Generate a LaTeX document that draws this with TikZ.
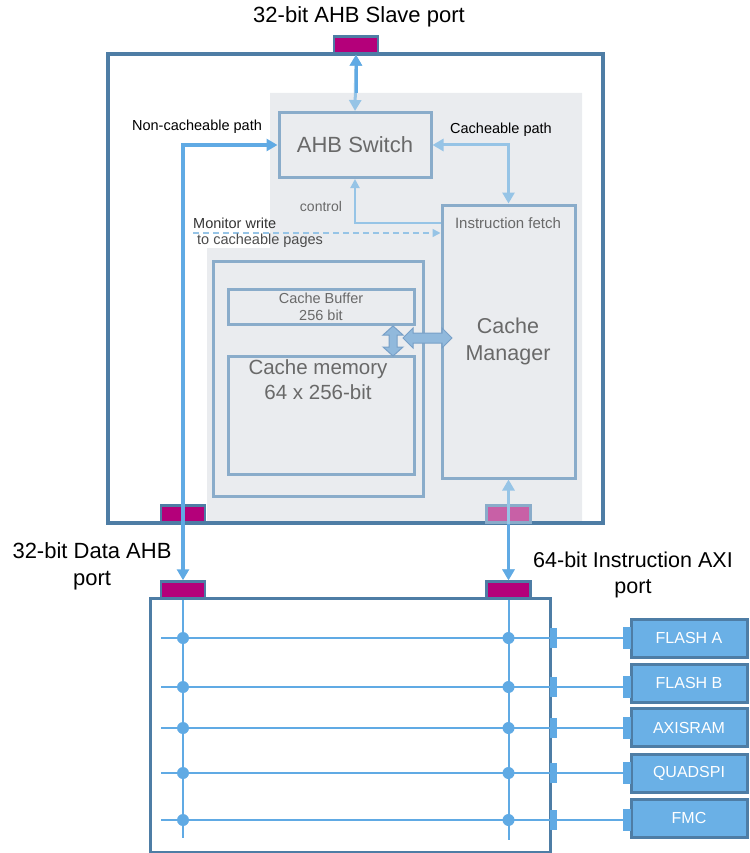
\documentclass[tikz,border=0pt]{standalone}
\usepackage{fontspec}
\setmainfont{Liberation Sans}
\usetikzlibrary{arrows.meta}
\definecolor{outerblue}{RGB}{78,125,165}
\definecolor{innerblue}{RGB}{138,172,202}
\definecolor{bggray}{RGB}{234,236,239}
\definecolor{magport}{RGB}{180,0,122}
\definecolor{pinkport}{RGB}{200,96,166}
\definecolor{arrowblue}{RGB}{96,170,228}
\definecolor{lightarrow}{RGB}{150,196,230}
\definecolor{perifill}{RGB}{106,176,230}
\definecolor{textgray}{RGB}{105,105,105}
\definecolor{fatfill}{RGB}{145,185,220}
\definecolor{fatdraw}{RGB}{120,160,200}
\tikzset{
  outerbox/.style={draw=outerblue, line width=3.5pt, inner sep=0pt},
  innerbox/.style={draw=innerblue, line width=3pt, inner sep=0pt, text=textgray},
  portbox/.style={draw=outerblue, fill=magport, line width=2.5pt, minimum width=44pt, minimum height=17pt, inner sep=0pt},
  peribox/.style={draw=outerblue, fill=perifill, line width=3pt, minimum width=116pt, minimum height=38pt, inner sep=0pt, text=white, font=\fontsize{16}{19}\selectfont},
  bigarrow/.style={line width=3pt, arrows={Triangle[length=11pt,width=12pt]-Triangle[length=11pt,width=12pt]}},
  rowline/.style={arrowblue, line width=2pt},
  stub/.style={fill=arrowblue},
  lbl/.style={inner sep=0pt, font=\fontsize{14.5}{17}\selectfont},
}
\begin{document}
\begin{tikzpicture}[x=1pt,y=-1pt]
\useasboundingbox (0,0) rectangle (749,853);
% gray background
\fill[bggray] (270,93) -- (582,93) -- (582,523) -- (207,523) -- (207,248) -- (270,248) -- cycle;
% top box
\node[outerbox, minimum width=495pt, minimum height=469pt] (topbox) at (355.5,288.5) {};
\node[inner sep=0pt, font=\fontsize{22}{26}\selectfont] (ttl) at (359,17) {32-bit AHB Slave port};
\node[portbox] (slave) at (356,45) {};
\node[portbox] (tp1) at (183,514) {};
\node[portbox, fill=pinkport, draw=innerblue] (tp2) at (508.5,514) {};
% AHB switch
\node[innerbox, minimum width=152pt, minimum height=65pt, font=\fontsize{22}{26}\selectfont] (ahb) at (355,145) {AHB Switch};
% cache manager
\node[innerbox, minimum width=133pt, minimum height=273pt] (cm) at (508.5,341.5) {};
\node[inner sep=0pt, text=textgray, font=\fontsize{21.5}{27}\selectfont, align=center] (cmt) at (508,341) {Cache\\Manager};
\node[inner sep=0pt, text=textgray, font=\fontsize{15}{17}\selectfont] (ifetch) at (508,223) {Instruction fetch};
% cache memory group
\node[innerbox, minimum width=210pt, minimum height=235pt] (cgroup) at (318,378.5) {};
\node[innerbox, minimum width=186pt, minimum height=35pt, align=center, font=\fontsize{14.5}{17}\selectfont] (cbuf) at (321,306.5) {Cache Buffer\\256 bit};
\node[innerbox, minimum width=186pt, minimum height=118pt] (cmem) at (321,415) {};
\node[inner sep=0pt, text=textgray, font=\fontsize{20.5}{25}\selectfont, align=center] (cmemt) at (318,379.5) {Cache memory\\64 x 256-bit};
% fat arrows
\filldraw[draw=fatdraw, fill=fatfill, line width=1pt] (393,326) -- (403,335) -- (397,335) -- (397,347) -- (403,347) -- (393,356) -- (383,347) -- (389,347) -- (389,335) -- (383,335) -- cycle;
\filldraw[draw=fatdraw, fill=fatfill, line width=1pt] (403,338) -- (413,328) -- (413,333) -- (442,333) -- (442,328) -- (452,338) -- (442,348) -- (442,343) -- (413,343) -- (413,348) -- cycle;
% lower box
\node[outerbox, line width=3pt, minimum width=400pt, minimum height=254pt] (lowbox) at (350,725) {};
\node[portbox] (lp1) at (183,590) {};
\node[portbox] (lp2) at (508.5,590) {};
% port labels
\node[inner sep=0pt, align=center, font=\fontsize{22}{27}\selectfont] (dlbl) at (92,566) {32-bit Data AHB\\port};
\node[inner sep=0pt, align=center, font=\fontsize{21.5}{26}\selectfont] (ilbl) at (633,575) {64-bit Instruction AXI\\port};
% slave <-> AHB switch
\draw[bigarrow, lightarrow] (slave.south) -- (ahb.north);
\coordinate (graytop) at (356,93);
\draw[line width=3pt, arrowblue, arrows={Triangle[length=11pt,width=12pt]-}] (slave.south) -- (graytop);
% non-cacheable path
\draw[bigarrow, arrowblue, line width=3.5pt] (ahb.west) -| (lp1.north);
\node[lbl] (ncl) at (197,127) {Non-cacheable path};
% cacheable path
\draw[bigarrow, lightarrow] (ahb.east) -| (cm.north);
\node[lbl] (cl) at (501,130) {Cacheable path};
% control
\draw[lightarrow, line width=2pt, -{Triangle[length=9pt,width=9pt]}] (cm.west |- ifetch) -| (ahb.south);
\node[inner sep=0pt, text=textgray, font=\fontsize{14}{17}\selectfont] (ctl) at (321,206) {control};
% monitor write
\coordinate (mon) at (193,233);
\draw[lightarrow, line width=1.5pt, dash pattern=on 6pt off 4pt, -{Triangle[length=8pt,width=8pt]}] (mon) -- (mon -| cm.west);
\node[lbl, anchor=west, text=black!80] (monl1) at (193,223) {Monitor write};
\node[lbl, anchor=west, text=black!70] (monl2) at (197,241) {to cacheable pages};
% instruction port arrow
\draw[bigarrow, lightarrow] (lp2.north) -- (cm.south);
\draw[line width=3pt, arrowblue, arrows={Triangle[length=11pt,width=12pt]-}] (lp2.north) -- (tp2.south);
% peripherals
\node[peribox] (fa) at (689,638) {FLASH A};
\node[peribox] (fb) at (689,683) {FLASH B};
\node[peribox] (ax) at (689,727.5) {AXISRAM};
\node[peribox] (qs) at (689,773) {QUADSPI};
\node[peribox] (fm) at (689,818) {FMC};
% bus verticals
\coordinate (v1end) at (183,838);
\coordinate (v2end) at (508.5,840);
\draw[rowline] (lp1.south) -- (v1end);
\draw[rowline] (lp2.south) -- (v2end);
% rows
\foreach \p/\y in {fa/638, fb/687, ax/728, qs/773, fm/820}{
  \coordinate (row\p) at (161,\y);
  \draw[rowline] (row\p) -- (row\p -| \p.west);
  \fill[arrowblue] (row\p -| lp1) circle (6pt);
  \fill[arrowblue] (row\p -| lp2) circle (6pt);
  \fill[stub] (row\p -| lowbox.east) ++(-2,-10) rectangle ++(7,20);
  \fill[stub] (row\p -| \p.west) ++(-7,-11) rectangle ++(8,22);
}
\end{tikzpicture}
\end{document}
